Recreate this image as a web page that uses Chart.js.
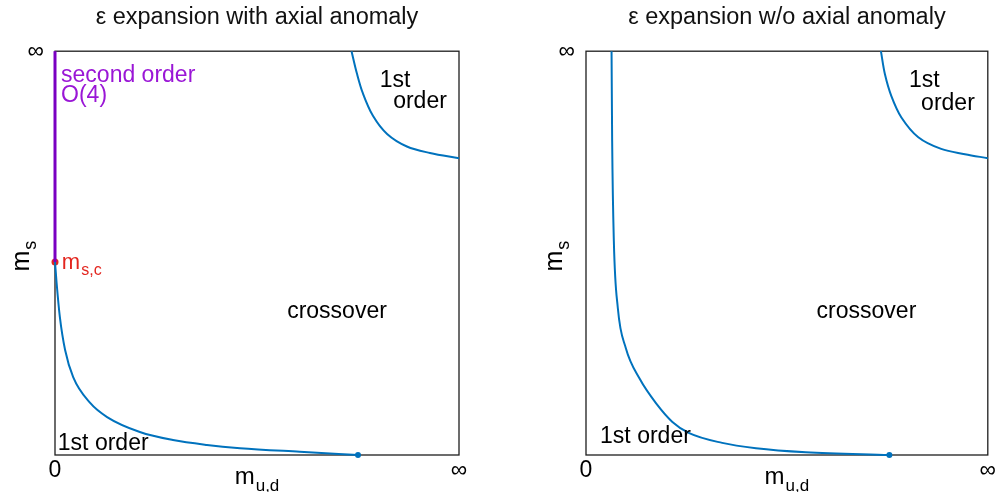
<!DOCTYPE html>
<html>
<head>
<meta charset="utf-8">
<script src="https://cdn.jsdelivr.net/npm/chart.js@4.4.1/dist/chart.umd.min.js"></script>
<style>
    html, body { margin: 0; padding: 0; background: #fff; }
    #wrap { position: relative; width: 998px; height: 492px; }
    .panel { position: absolute; top: 0; width: 499px; height: 492px; }
</style>
</head>
<body>
<div id="wrap">
    <div class="panel" style="left:0"><canvas id="leftChart"></canvas></div>
    <div class="panel" style="left:499px"><canvas id="rightChart"></canvas></div>
</div>
<script>
// --- Data (both axes run from 0 to infinity, mapped onto 0..1) ---
const xTickLabels = { 0: '0', 1: '\u221E' };
const yTickLabels = { 0: '', 1: '\u221E' };

// with axial anomaly
const leftLowerX = [0, 0.004, 0.012, 0.025, 0.045, 0.087, 0.129, 0.210, 0.292, 0.376, 0.458, 0.606, 0.750];
const leftLowerY = [0.478, 0.426, 0.342, 0.260, 0.193, 0.129, 0.094, 0.057, 0.037, 0.025, 0.017, 0.008, 0];
const leftUpperX = [0.734, 0.747, 0.762, 0.787, 0.822, 0.871, 0.928, 1.0];
const leftUpperY = [1, 0.946, 0.896, 0.840, 0.795, 0.764, 0.748, 0.735];
const secondOrderX = [0, 0];
const secondOrderY = [0.478, 1];

// without axial anomaly
const rightLowerX = [0.0636, 0.0651, 0.0693, 0.0792, 0.099, 0.134, 0.176, 0.215, 0.257, 0.339, 0.423, 0.547, 0.755];
const rightLowerY = [1, 0.777, 0.530, 0.364, 0.265, 0.188, 0.126, 0.082, 0.054, 0.030, 0.017, 0.007, 0];
const rightUpperX = [0.734, 0.744, 0.760, 0.785, 0.827, 0.884, 0.943, 1.0];
const rightUpperY = [1, 0.943, 0.889, 0.836, 0.787, 0.758, 0.745, 0.735];

const BLUE = '#0072bd';
const PURPLE_LINE = '#7a00c2';
const PURPLE_TEXT = '#9a16d6';
const RED = '#e3261f';
const FONT = "'Liberation Sans', Arial, sans-serif";
const LABEL_SIZE = 23;

const toPoints = (xs, ys) => xs.map((x, i) => ({ x: x, y: ys[i] }));
const lastPoint = (xs, ys) => [{ x: xs[xs.length - 1], y: ys[ys.length - 1] }];

function curve(xs, ys, smooth) {
    const ds = {
        data: toPoints(xs, ys),
        showLine: true,
        borderColor: BLUE,
        borderWidth: 2,
        pointRadius: 0,
        clip: 2
    };
    if (smooth) {
        ds.tension = 0.35;
    } else {
        ds.cubicInterpolationMode = 'monotone';
    }
    return ds;
}

function dot(points, color, r) {
    return {
        data: points,
        showLine: false,
        pointRadius: r,
        pointBackgroundColor: color,
        pointBorderWidth: 0,
        clip: false
    };
}

// text with a subscript
function drawSub(ctx, x, y, base, sub, size) {
    ctx.font = size + 'px ' + FONT;
    ctx.fillText(base, x, y);
    const w = ctx.measureText(base).width;
    ctx.font = Math.round(size * 0.72) + 'px ' + FONT;
    ctx.fillText(sub, x + w + 1, y + size * 0.32);
}

// frame, axis titles and region labels
const phaseLabels = {
    id: 'phaseLabels',
    beforeDatasetsDraw(chart) {
        const ctx = chart.ctx;
        const a = chart.chartArea;
        ctx.save();
        ctx.strokeStyle = '#1e1e1e';
        ctx.lineWidth = 1.3;
        ctx.strokeRect(a.left, a.top, a.right - a.left, a.bottom - a.top);
        ctx.restore();
    },
    afterDatasetsDraw(chart, args, opts) {
        const ctx = chart.ctx;
        const a = chart.chartArea;
        const xs = chart.scales.x;
        const ys = chart.scales.y;
        ctx.save();
        ctx.textBaseline = 'middle';

        (opts.texts || []).forEach(t => {
            ctx.fillStyle = t.color || '#000';
            ctx.textAlign = t.align || 'left';
            const px = xs.getPixelForValue(t.x);
            const py = ys.getPixelForValue(t.y);
            if (t.sub) {
                drawSub(ctx, px, py, t.text, t.sub, 22);
            } else {
                ctx.font = LABEL_SIZE + 'px ' + FONT;
                ctx.fillText(t.text, px, py);
            }
        });

        // x axis title m_{u,d}
        ctx.fillStyle = '#000';
        ctx.textAlign = 'left';
        ctx.textBaseline = 'alphabetic';
        ctx.font = '24px ' + FONT;
        const mW = ctx.measureText('m').width;
        ctx.font = '17px ' + FONT;
        const subW = ctx.measureText('u,d').width;
        const cx = (a.left + a.right) / 2;
        const startX = cx - (mW + subW + 1) / 2;
        ctx.font = '24px ' + FONT;
        ctx.fillText('m', startX, 484);
        ctx.font = '17px ' + FONT;
        ctx.fillText('u,d', startX + mW + 1, 491);

        // y axis title m_s
        ctx.translate(opts.yTitleX, (a.top + a.bottom) / 2 + 4);
        ctx.rotate(-Math.PI / 2);
        ctx.font = '25px ' + FONT;
        const mW2 = ctx.measureText('m').width;
        ctx.fillText('m', -(mW2 + 8) / 2, 8);
        ctx.font = '18px ' + FONT;
        ctx.fillText('s', -(mW2 + 8) / 2 + mW2 + 1, 15);
        ctx.restore();
    }
};

function makeOptions(titleText, yWidth, padLeft, padRight, labelOpts) {
    return {
        responsive: true,
        maintainAspectRatio: false,
        animation: false,
        layout: { padding: { left: padLeft, right: padRight, top: 0, bottom: 0 } },
        scales: {
            x: {
                type: 'linear',
                min: 0,
                max: 1,
                ticks: {
                    stepSize: 1,
                    maxRotation: 0,
                    padding: 2,
                    color: '#000',
                    font: { family: FONT, size: 23 },
                    callback: v => xTickLabels[v]
                },
                grid: { display: false, drawTicks: false },
                border: { display: false },
                afterFit: s => { s.height = 37; }
            },
            y: {
                type: 'linear',
                min: 0,
                max: 1,
                ticks: {
                    stepSize: 1,
                    padding: 11,
                    color: '#000',
                    font: { family: FONT, size: 23 },
                    callback: v => yTickLabels[v]
                },
                grid: { display: false, drawTicks: false },
                border: { display: false },
                afterFit: s => { s.width = yWidth; }
            }
        },
        plugins: {
            legend: { display: false },
            tooltip: { enabled: false },
            title: {
                display: true,
                fullSize: false,
                text: titleText,
                color: '#111',
                font: { family: FONT, size: 23.5, weight: 'normal' },
                padding: { top: 3, bottom: 20 }
            },
            phaseLabels: labelOpts
        }
    };
}

// --- Left panel: with axial anomaly ---
new Chart(document.getElementById('leftChart'), {
    type: 'scatter',
    data: {
        datasets: [
            curve(leftLowerX, leftLowerY, false),
            curve(leftUpperX, leftUpperY, true),
            {
                data: toPoints(secondOrderX, secondOrderY),
                showLine: true,
                borderColor: PURPLE_LINE,
                borderWidth: 3,
                pointRadius: 0,
                clip: false
            },
            dot(lastPoint(leftLowerX, leftLowerY), BLUE, 3),
            dot([{ x: leftLowerX[0], y: leftLowerY[0] }], RED, 3.5)
        ]
    },
    options: makeOptions('\u03B5 expansion with axial anomaly', 55, 0, 40, {
        yTitleX: 21,
        texts: [
            { text: 'second order', x: 0.015, y: 0.94, color: PURPLE_TEXT },
            { text: 'O(4)', x: 0.015, y: 0.889, color: PURPLE_TEXT },
            { text: '1st', x: 0.804, y: 0.928 },
            { text: 'order', x: 0.837, y: 0.874 },
            { text: 'm', sub: 's,c', x: 0.017, y: 0.475, color: RED },
            { text: 'crossover', x: 0.698, y: 0.354, align: 'center' },
            { text: '1st order', x: 0.007, y: 0.027 }
        ]
    }),
    plugins: [phaseLabels]
});

// --- Right panel: without axial anomaly ---
new Chart(document.getElementById('rightChart'), {
    type: 'scatter',
    data: {
        datasets: [
            curve(rightLowerX, rightLowerY, false),
            curve(rightUpperX, rightUpperY, true),
            dot(lastPoint(rightLowerX, rightLowerY), BLUE, 3)
        ]
    },
    options: makeOptions('\u03B5 expansion w/o axial anomaly', 55, 32, 4, {
        yTitleX: 55,
        texts: [
            { text: '1st', x: 0.804, y: 0.926 },
            { text: 'order', x: 0.834, y: 0.871 },
            { text: 'crossover', x: 0.698, y: 0.354, align: 'center' },
            { text: '1st order', x: 0.035, y: 0.045 }
        ]
    }),
    plugins: [phaseLabels]
});
</script>
</body>
</html>
